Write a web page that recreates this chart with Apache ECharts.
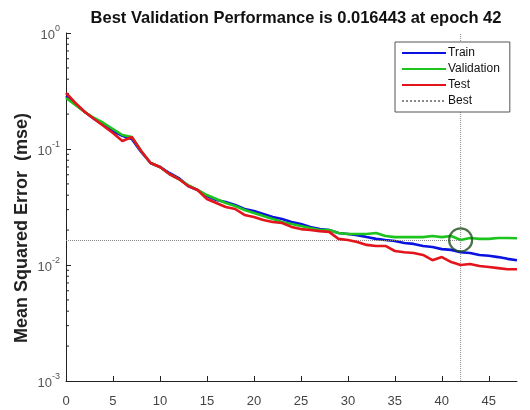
<!DOCTYPE html>
<html>
<head>
<meta charset="utf-8">
<script src="https://cdn.jsdelivr.net/npm/echarts@6/dist/echarts.min.js"></script>
<style>
  html, body { margin: 0; padding: 0; background: #fff; }
  #perf_chart { width: 530px; height: 410px; }
</style>
</head>
<body>
<div id="perf_chart"></div>
<script>
// epochs 0..48
var epochs = [];
for (var i = 0; i <= 48; i++) epochs.push(i);

var trainMse = [0.2863, 0.2443, 0.2084, 0.1814, 0.1610, 0.1429, 0.1300, 0.1220, 0.0942, 0.0757,
  0.0700, 0.0621, 0.0562, 0.0480, 0.0443, 0.0393, 0.0363, 0.0349, 0.0329, 0.0304,
  0.0292, 0.0275, 0.0259, 0.0249, 0.0235, 0.0226, 0.0213, 0.0204, 0.0200, 0.0189,
  0.0185, 0.0181, 0.0174, 0.0168, 0.0164, 0.0161, 0.0155, 0.0152, 0.0146, 0.0143,
  0.0137, 0.0135, 0.0129, 0.0127, 0.0122, 0.0120, 0.0117, 0.0113, 0.0110];
var validationMse = [0.2753, 0.2395, 0.2084, 0.1850, 0.1675, 0.1487, 0.1320, 0.1269, 0.0961, 0.0757,
  0.0700, 0.0609, 0.0551, 0.0489, 0.0443, 0.0401, 0.0371, 0.0342, 0.0323, 0.0298,
  0.0281, 0.0264, 0.0249, 0.0235, 0.0226, 0.0217, 0.0208, 0.0200, 0.0200, 0.0189,
  0.0185, 0.0185, 0.0185, 0.0189, 0.0178, 0.0174, 0.0174, 0.0174, 0.0174, 0.0178,
  0.0174, 0.0178, 0.016443, 0.0171, 0.0168, 0.0168, 0.0171, 0.0171, 0.0170];
var testMse = [0.3039, 0.2492, 0.2084, 0.1814, 0.1579, 0.1374, 0.1172, 0.1269, 0.0961, 0.0757,
  0.0700, 0.0609, 0.0551, 0.0480, 0.0443, 0.0371, 0.0342, 0.0316, 0.0304, 0.0270,
  0.0259, 0.0244, 0.0235, 0.0230, 0.0213, 0.0204, 0.0200, 0.0196, 0.0193, 0.0168,
  0.0164, 0.0158, 0.0149, 0.0146, 0.0146, 0.0132, 0.0129, 0.0127, 0.0122, 0.0110,
  0.0117, 0.0106, 0.0100, 0.0102, 0.0098, 0.0096, 0.0094, 0.0092, 0.0092];

var bestEpoch = 42;
var bestPerf = 0.016443;
var xTicks = [0, 5, 10, 15, 20, 25, 30, 35, 40, 45];
var yMin = 0.001, yMax = 1;

// minor ticks of the log axis (2..9 in each decade)
var minorTicks = [];
[0.001, 0.01, 0.1].forEach(function (d) {
  for (var m = 2; m <= 9; m++) minorTicks.push([0, d * m]);
});

function zip(ys) {
  return epochs.map(function (e, k) { return [e, ys[k]]; });
}

var font = "'Liberation Sans', Arial, sans-serif";
var perfChart = echarts.init(document.getElementById("perf_chart"));

var option = {
  animation: false,
  title: {
    text: "Best Validation Performance is " + bestPerf + " at epoch " + bestEpoch,
    left: 291,
    textAlign: "center",
    top: 5,
    textStyle: { fontFamily: font, fontSize: 16.5, fontWeight: "bold", color: "#111" }
  },
  graphic: [{
    type: "text",
    x: 22,
    y: 228,
    rotation: Math.PI / 2,
    style: {
      text: "Mean Squared Error  (mse)",
      fontFamily: font, fontSize: 18, fontWeight: "bold", fill: "#222",
      align: "center", verticalAlign: "middle"
    }
  }],
  legend: {
    data: ["Train", "Validation", "Test", "Best"],
    orient: "vertical",
    left: 395,
    top: 42,
    itemWidth: 44,
    itemHeight: 12,
    itemGap: 4,
    padding: [5, 10, 5, 6],
    borderColor: "#555",
    borderWidth: 1,
    borderRadius: 0,
    backgroundColor: "#fff",
    itemStyle: { opacity: 0 },
    textStyle: { fontFamily: font, fontSize: 12, color: "#111", padding: [0, 0, 0, -3] }
  },
  grid: { left: 66, right: 13, top: 33, bottom: 29 },
  xAxis: {
    type: "value",
    min: 0,
    max: 48,
    interval: 5,
    axisLine: { lineStyle: { color: "#222" } },
    axisTick: { inside: true, length: 5, customValues: xTicks, lineStyle: { color: "#222" } },
    axisLabel: { customValues: xTicks, fontFamily: font, fontSize: 13, color: "#444", margin: 14 },
    splitLine: { show: false }
  },
  yAxis: {
    type: "log",
    logBase: 10,
    min: yMin,
    max: yMax,
    axisLine: { show: true, lineStyle: { color: "#222" } },
    axisTick: { inside: true, length: 5, lineStyle: { color: "#222" } },
    axisLabel: {
      margin: 6,
      formatter: function (v) {
        return "{b|10}{s|" + Math.round(Math.log10(v)) + "}";
      },
      rich: {
        b: { fontFamily: font, fontSize: 13, color: "#555", verticalAlign: "bottom", lineHeight: 17 },
        s: { fontFamily: font, fontSize: 9, color: "#555", verticalAlign: "top", lineHeight: 17 }
      }
    },
    splitLine: { show: false }
  },
  series: [
    {
      name: "Train", type: "line", data: zip(trainMse), symbol: "none", z: 3,
      lineStyle: { color: "#0a12e0", width: 2.6 }, itemStyle: { color: "#0a12e0" }
    },
    {
      name: "Validation", type: "line", data: zip(validationMse), symbol: "none", z: 4,
      lineStyle: { color: "#1ec41e", width: 2.6 }, itemStyle: { color: "#1ec41e" }
    },
    {
      name: "Test", type: "line", data: zip(testMse), symbol: "none", z: 5,
      lineStyle: { color: "#e3141b", width: 2.6 }, itemStyle: { color: "#e3141b" }
    },
    {
      name: "Best", type: "line", symbol: "none", z: 2,
      data: [[bestEpoch, yMin], [bestEpoch, yMax]],
      lineStyle: { color: "#888", width: 1, type: "dotted" }, itemStyle: { color: "#888" },
      markLine: {
        silent: true, symbol: "none", label: { show: false },
        lineStyle: { color: "#888", width: 1, type: "dotted" },
        data: [[{ coord: [0, bestPerf] }, { coord: [bestEpoch, bestPerf] }]]
      }
    },
    {
      name: "bestCircle", type: "scatter", z: 6,
      data: [[bestEpoch, bestPerf]],
      symbol: "circle", symbolSize: 23,
      itemStyle: { color: "rgba(0,0,0,0)", borderColor: "#1b4f1b", borderWidth: 2.2 }
    },
    {
      name: "minorTicks", type: "custom", z: 1, silent: true,
      data: minorTicks,
      renderItem: function (params, api) {
        var p = api.coord([api.value(0), api.value(1)]);
        return {
          type: "line",
          shape: { x1: p[0], y1: p[1], x2: p[0] + 3, y2: p[1] },
          style: { stroke: "#222", lineWidth: 1 }
        };
      }
    }
  ]
};

perfChart.setOption(option);
window.addEventListener("resize", function () {
  perfChart.resize();
});
</script>
</body>
</html>
